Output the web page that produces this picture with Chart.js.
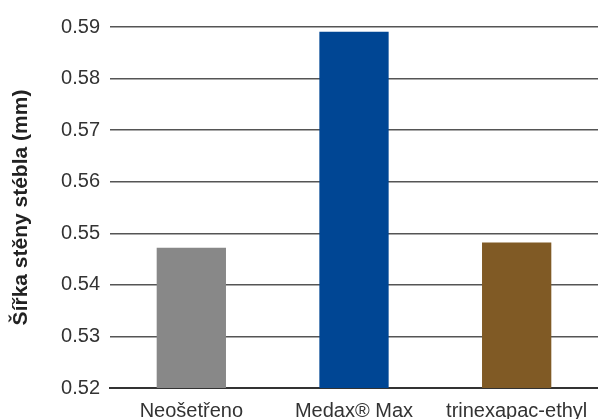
<!DOCTYPE html>
<html>
<head>
<meta charset="utf-8">
<script src="https://cdn.jsdelivr.net/npm/chart.js@4"></script>
<style>
  html, body { margin: 0; padding: 0; background: #fff; }
  #wrap { width: 598px; height: 419px; }
</style>
</head>
<body>
<div id="wrap"><canvas id="myChart" width="598" height="419"></canvas></div>
<script>
// data
const categories = ['Neošetřeno', 'Medax® Max', 'trinexapac-ethyl'];
const wallWidth = [0.5472, 0.5891, 0.5482];
const barColors = ['#888888', '#004694', '#805a25'];
const yTicks = [0.52, 0.53, 0.54, 0.55, 0.56, 0.57, 0.58, 0.59];
const yTitle = 'Šířka stěny stébla (mm)';

const ctx = document.getElementById('myChart').getContext('2d');
const myChart = new Chart(ctx, {
    type: 'bar',
    data: {
        labels: categories,
        datasets: [{
            data: wallWidth,
            backgroundColor: barColors,
            borderWidth: 0,
            categoryPercentage: 1,
            barPercentage: 0.426
        }]
    },
    options: {
        responsive: false,
        animation: false,
        layout: { padding: { top: 27, right: 0, left: 0, bottom: 0 } },
        plugins: {
            legend: { display: false },
            tooltip: { enabled: false }
        },
        scales: {
            x: {
                grid: { display: false },
                border: { display: true, color: '#333', width: 2 },
                ticks: {
                    color: '#333',
                    padding: 3,
                    font: { family: 'Liberation Sans', size: 20 },
                    maxRotation: 0
                },
                afterFit: function(scale){ scale.height = 31; }
            },
            y: {
                min: 0.52,
                max: 0.59,
                afterBuildTicks: function(scale){
                    scale.ticks = yTicks.map(v => ({ value: v }));
                },
                grid: { color: '#555', lineWidth: 1.4, drawTicks: false },
                border: { display: false },
                ticks: {
                    color: '#333',
                    padding: 10,
                    font: { family: 'Liberation Sans', size: 20 },
                    callback: function(v){ return v.toFixed(2); }
                },
                title: {
                    display: true,
                    text: yTitle,
                    color: '#222',
                    padding: { top: 9, bottom: 0 },
                    font: { family: 'Liberation Sans', size: 21, weight: 'bold' }
                },
                afterFit: function(scale){ scale.width = 110; }
            }
        }
    }
});
</script>
</body>
</html>
